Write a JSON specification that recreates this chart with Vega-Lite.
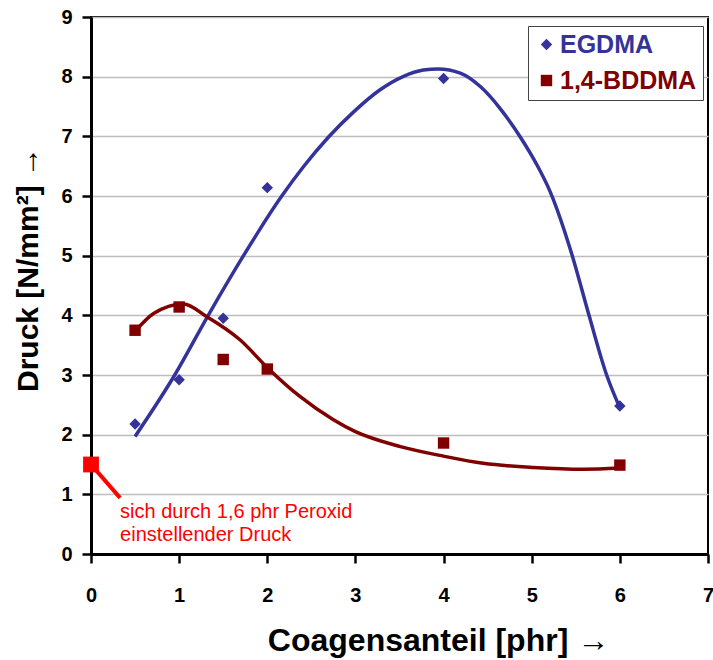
{
  "$schema": "https://vega.github.io/schema/vega-lite/v6.json",
  "width": 617,
  "height": 537,
  "autosize": {"type": "none"},
  "padding": {"left": 91, "top": 17, "right": 5, "bottom": 106},
  "background": "white",
  "config": {
    "font": "Liberation Sans",
    "view": {"stroke": "black", "strokeWidth": 2},
    "axis": {
      "labelFont": "Liberation Sans",
      "labelFontWeight": "bold",
      "labelFontSize": 20,
      "labelColor": "black",
      "titleFont": "Liberation Sans",
      "titleFontWeight": "bold",
      "titleColor": "black",
      "domainColor": "black",
      "domainWidth": 3,
      "tickColor": "black",
      "tickWidth": 2.5,
      "tickSize": 9,
      "labelFlush": false,
      "labelOverlap": false,
      "format": "d"
    }
  },
  "datasets": {
    "points": [
      {"series": "EGDMA", "x": 0.5, "y": 2.18},
      {"series": "EGDMA", "x": 1, "y": 2.92},
      {"series": "EGDMA", "x": 1.5, "y": 3.95},
      {"series": "EGDMA", "x": 2, "y": 6.14},
      {"series": "EGDMA", "x": 4, "y": 7.97},
      {"series": "EGDMA", "x": 6, "y": 2.48},
      {"series": "1,4-BDDMA", "x": 0.5, "y": 3.75},
      {"series": "1,4-BDDMA", "x": 1, "y": 4.14},
      {"series": "1,4-BDDMA", "x": 1.5, "y": 3.26},
      {"series": "1,4-BDDMA", "x": 2, "y": 3.1},
      {"series": "1,4-BDDMA", "x": 4, "y": 1.86},
      {"series": "1,4-BDDMA", "x": 6, "y": 1.49}
    ],
    "curves": [
      {"series": "EGDMA", "x": 0.5, "y": 1.97},
      {"series": "EGDMA", "x": 0.95, "y": 3.0},
      {"series": "EGDMA", "x": 1.33, "y": 4.0},
      {"series": "EGDMA", "x": 1.73, "y": 5.0},
      {"series": "EGDMA", "x": 2.16, "y": 5.99},
      {"series": "EGDMA", "x": 2.41, "y": 6.49},
      {"series": "EGDMA", "x": 2.69, "y": 6.98},
      {"series": "EGDMA", "x": 2.98, "y": 7.41},
      {"series": "EGDMA", "x": 3.28, "y": 7.78},
      {"series": "EGDMA", "x": 3.54, "y": 8.0},
      {"series": "EGDMA", "x": 3.77, "y": 8.11},
      {"series": "EGDMA", "x": 3.94, "y": 8.13},
      {"series": "EGDMA", "x": 4.19, "y": 8.06},
      {"series": "EGDMA", "x": 4.42, "y": 7.83},
      {"series": "EGDMA", "x": 4.64, "y": 7.47},
      {"series": "EGDMA", "x": 4.87, "y": 6.99},
      {"series": "EGDMA", "x": 5.06, "y": 6.52},
      {"series": "EGDMA", "x": 5.21, "y": 6.07},
      {"series": "EGDMA", "x": 5.46, "y": 5.0},
      {"series": "EGDMA", "x": 5.65, "y": 4.0},
      {"series": "EGDMA", "x": 5.85, "y": 3.0},
      {"series": "EGDMA", "x": 6.0, "y": 2.45},
      {"series": "1,4-BDDMA", "x": 0.5, "y": 3.73},
      {"series": "1,4-BDDMA", "x": 0.71, "y": 4.03},
      {"series": "1,4-BDDMA", "x": 1.05, "y": 4.19},
      {"series": "1,4-BDDMA", "x": 1.31, "y": 3.98},
      {"series": "1,4-BDDMA", "x": 1.69, "y": 3.59},
      {"series": "1,4-BDDMA", "x": 2.01, "y": 3.11},
      {"series": "1,4-BDDMA", "x": 2.37, "y": 2.64},
      {"series": "1,4-BDDMA", "x": 2.75, "y": 2.25},
      {"series": "1,4-BDDMA", "x": 3.0, "y": 2.05},
      {"series": "1,4-BDDMA", "x": 3.51, "y": 1.8},
      {"series": "1,4-BDDMA", "x": 4.0, "y": 1.64},
      {"series": "1,4-BDDMA", "x": 4.45, "y": 1.52},
      {"series": "1,4-BDDMA", "x": 5.02, "y": 1.45},
      {"series": "1,4-BDDMA", "x": 5.59, "y": 1.42},
      {"series": "1,4-BDDMA", "x": 6.0, "y": 1.44}
    ],
    "annot": [
      {"x": 0, "y": 1.5, "x2": 0.33, "y2": 0.94, "label": ["sich durch 1,6 phr Peroxid", "einstellender Druck"]}
    ]
  },
  "layer": [
    {
      "data": {"name": "curves"},
      "transform": [{"filter": "datum.series === 'EGDMA'"}],
      "mark": {"type": "line", "interpolate": "monotone", "strokeWidth": 3.5, "color": "#333399"},
      "encoding": {
        "x": {
          "field": "x", "type": "quantitative",
          "scale": {"domain": [0, 7], "nice": false, "zero": false},
          "axis": {
            "values": [0, 1, 2, 3, 4, 5, 6, 7],
            "grid": false,
            "labelPadding": 22,
            "title": "Coagensanteil [phr] →",
            "titleFontSize": 32,
            "titleAlign": "center",
            "titleBaseline": "alphabetic",
            "titleX": 347,
            "titleY": 96
          }
        },
        "y": {
          "field": "y", "type": "quantitative",
          "scale": {"domain": [0, 9], "nice": false, "zero": true},
          "axis": {
            "values": [0, 1, 2, 3, 4, 5, 6, 7, 8, 9],
            "grid": true,
            "gridColor": "#bdbdbd",
            "gridWidth": 1.5,
            "labelPadding": 10,
            "title": "Druck [N/mm²] →",
            "titleFontSize": 30,
            "titleAngle": 270,
            "titleAlign": "center",
            "titleBaseline": "alphabetic",
            "titleX": -54,
            "titleY": 252
          }
        }
      }
    },
    {
      "data": {"name": "curves"},
      "transform": [{"filter": "datum.series === '1,4-BDDMA'"}],
      "mark": {"type": "line", "interpolate": "monotone", "strokeWidth": 3.5, "color": "#800000"},
      "encoding": {
        "x": {"field": "x", "type": "quantitative"},
        "y": {"field": "y", "type": "quantitative"}
      }
    },
    {
      "data": {"name": "points"},
      "mark": {"type": "point", "filled": true, "opacity": 1, "size": 130},
      "encoding": {
        "x": {"field": "x", "type": "quantitative"},
        "y": {"field": "y", "type": "quantitative"},
        "color": {
          "field": "series", "type": "nominal",
          "scale": {"domain": ["EGDMA", "1,4-BDDMA"], "range": ["#333399", "#800000"]},
          "legend": {
            "orient": "none",
            "legendX": 437,
            "legendY": 9,
            "title": null,
            "padding": 6,
            "strokeColor": "#444444",
            "fillColor": "white",
            "labelFont": "Liberation Sans",
            "labelFontWeight": "bold",
            "labelFontSize": 25,
            "labelLimit": 300,
            "labelOffset": 1,
            "symbolSize": 130,
            "rowPadding": 10,
            "symbolOpacity": 1,
            "encode": {
              "labels": {
                "update": {
                  "fill": {"signal": "datum.label === 'EGDMA' ? '#333399' : '#800000'"}
                }
              }
            }
          }
        },
        "shape": {
          "field": "series", "type": "nominal",
          "scale": {"domain": ["EGDMA", "1,4-BDDMA"], "range": ["diamond", "square"]}
        }
      }
    },
    {
      "data": {"name": "annot"},
      "mark": {"type": "rule", "color": "#ff0000", "strokeWidth": 4},
      "encoding": {
        "x": {"field": "x", "type": "quantitative"},
        "y": {"field": "y", "type": "quantitative"},
        "x2": {"field": "x2"},
        "y2": {"field": "y2"}
      }
    },
    {
      "data": {"name": "annot"},
      "mark": {"type": "square", "color": "#ff0000", "filled": true, "opacity": 1, "size": 250},
      "encoding": {
        "x": {"field": "x", "type": "quantitative"},
        "y": {"field": "y", "type": "quantitative"}
      }
    },
    {
      "data": {"name": "annot"},
      "mark": {"type": "text", "color": "#ff0000", "align": "left", "baseline": "alphabetic", "fontSize": 20, "font": "Liberation Sans", "dy": 20, "lineHeight": 23},
      "encoding": {
        "x": {"field": "x2", "type": "quantitative"},
        "y": {"field": "y2", "type": "quantitative"},
        "text": {"field": "label"}
      }
    }
  ]
}
